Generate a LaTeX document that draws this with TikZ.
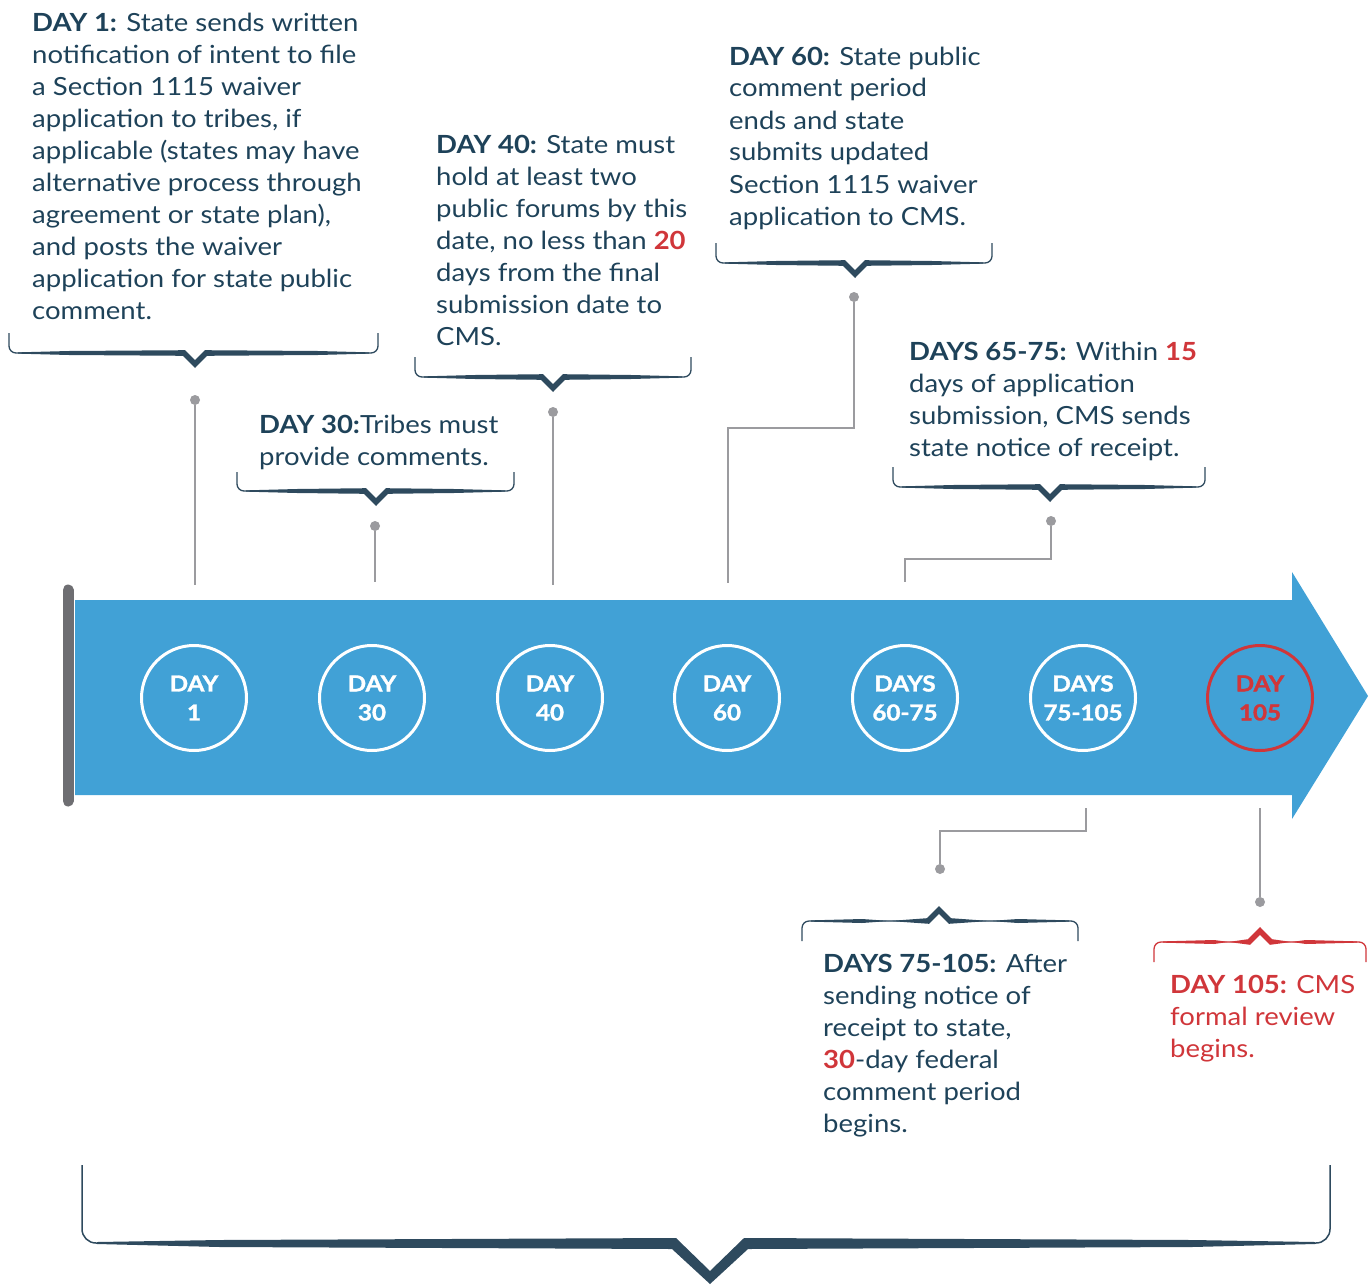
\documentclass[tikz,border=0pt]{standalone}
\usepackage{fontspec}
\setmainfont{Lato}[FakeStretch=1.1]
\definecolor{navy}{HTML}{1E4259}
\definecolor{tred}{HTML}{D0363A}
\definecolor{tblue}{HTML}{41A1D6}
\definecolor{cgray}{HTML}{9B9B9F}
\definecolor{bnavy}{HTML}{2E4A5E}
\definecolor{bargray}{HTML}{6E6E72}
\newcommand\tlbracket[7]{%
 \draw[#7, line width=1.3pt, rounded corners=7pt] (#1,#4) -- (#1,#3) -- (#5-9,#3);
 \draw[#7, line width=1.3pt, rounded corners=7pt] (#5+9,#3) -- (#2,#3) -- (#2,#4);
 \fill[#7] (#1+9,{#3-0.65}) -- (#1+60,{#3-2}) -- (#5-10,{#3-(#6)*2.8}) -- (#5,{#3+(#6)*7.2}) -- (#5+10,{#3-(#6)*2.8}) -- (#2-60,{#3-2}) -- (#2-9,{#3-0.65})
   -- (#2-9,{#3+0.65}) -- (#2-60,{#3+2}) -- (#5+12,{#3+(#6)*2.8}) -- (#5,{#3+(#6)*15}) -- (#5-12,{#3+(#6)*2.8}) -- (#1+60,{#3+2}) -- (#1+9,{#3+0.65}) -- cycle;
}
\tikzset{
 circ/.style={circle, draw=white, line width=3pt, minimum size=105pt, inner sep=0pt, align=center,
   text=white, font=\fontsize{22}{29}\selectfont\bfseries\addfontfeatures{FakeBold=1.5}},
 redcirc/.style={circ, draw=tred, text=tred},
 dot/.style={circle, fill=cgray, inner sep=0pt, minimum size=10pt},
 conn/.style={draw=cgray, line width=2.5pt},
 txt/.style={anchor=base west, inner sep=0pt, align=left, text=navy, font=\fontsize{25}{32}\selectfont},
 redtxt/.style={txt, text=tred},
}
\newcommand\hl[1]{\textcolor{tred}{\textbf{#1}}}
\begin{document}
\begin{tikzpicture}[x=1pt,y=-1pt]
\useasboundingbox (0,0) rectangle (1372,1284);
% timeline arrow
\fill[tblue] (75,600) -- (1292,600) -- (1292,572) -- (1368,696) -- (1292,819) -- (1292,795) -- (75,795) -- cycle;
\draw[bargray, line width=11pt, line cap=round] (68,590) -- (68,801);
% circles
\node[circ] (c1) at (194,698) {DAY\\1};
\node[circ] (c2) at (372,698) {DAY\\30};
\node[circ] (c3) at (550,698) {DAY\\40};
\node[circ] (c4) at (727,698) {DAY\\60};
\node[circ] (c5) at (905,698) {DAYS\\60-75};
\node[circ] (c6) at (1083,698) {DAYS\\75-105};
\node[redcirc] (c7) at (1260,698) {DAY\\105};
% dots and connector ends
\node[dot] (d1) at (195,400) {};
\coordinate (e1) at (195,585);
\node[dot] (d2) at (375,526) {};
\coordinate (e2) at (375,582);
\node[dot] (d3) at (553,412) {};
\coordinate (e3) at (553,585);
\node[dot] (d4) at (854,297) {};
\coordinate (e4) at (728,583);
\node[dot] (d5) at (1051,521) {};
\coordinate (e5) at (905,582);
\node[dot] (d6) at (940,869) {};
\coordinate (e6) at (1086,808);
\node[dot] (d7) at (1260,902) {};
\coordinate (e7) at (1260,808);
\draw[conn] (d1) -- (e1);
\draw[conn] (d2) -- (e2);
\draw[conn] (d3) -- (e3);
\draw[conn] (d4) -- ++(0,131) -| (e4);
\draw[conn] (d5) -- ++(0,38) -| (e5);
\draw[conn] (e6) -- ++(0,23) -| (d6);
\draw[conn] (e7) -- (d7);
% brackets
\tlbracket{9}{378}{353}{333}{195}{1}{bnavy}
\tlbracket{237}{514}{491}{472}{376}{1}{bnavy}
\tlbracket{415}{691}{377}{357}{553}{1}{bnavy}
\tlbracket{716}{992}{263}{243}{855}{1}{bnavy}
\tlbracket{893}{1205}{487}{467}{1050}{1}{bnavy}
\tlbracket{802}{1078}{921}{941}{939}{-1}{bnavy}
\tlbracket{1154}{1366}{942}{962}{1260}{-1}{tred}
% big bracket
\draw[bnavy, line width=1.5pt, rounded corners=14pt] (82,1165) -- (82,1243) -- (676,1243);
\draw[bnavy, line width=1.5pt, rounded corners=14pt] (744,1243) -- (1330,1243) -- (1330,1165);
\fill[bnavy] (97,1242) -- (220,1240) -- (676,1238) -- (710,1271) -- (744,1238) -- (1192,1240) -- (1315,1242) -- (1315,1244) -- (1192,1247) -- (748,1249) -- (710,1284) -- (672,1249) -- (220,1247) -- (97,1244) -- cycle;
% texts (anchored at the baseline of the last line)
\node[txt] (t1) at (32,319) {\textbf{DAY 1:} State sends written\\notification of intent to file\\a Section 1115 waiver\\application to tribes, if\\applicable (states may have\\alternative process through\\agreement or state plan),\\and posts the waiver\\application for state public\\comment.};
\node[txt] (t2) at (259,465) {\textbf{DAY 30:}Tribes must\\provide comments.};
\node[txt] (t3) at (436,345) {\textbf{DAY 40:} State must\\hold at least two\\public forums by this\\date, no less than \hl{20}\\days from the final\\submission date to\\CMS.};
\node[txt] (t4) at (729,225) {\textbf{DAY 60:} State public\\comment period\\ends and state\\submits updated\\Section 1115 waiver\\application to CMS.};
\node[txt] (t5) at (909,456) {\textbf{DAYS 65-75:} Within \hl{15}\\days of application\\submission, CMS sends\\state notice of receipt.};
\node[txt] (t6) at (823,1132) {\textbf{DAYS 75-105:} After\\sending notice of\\receipt to state,\\\hl{30}-day federal\\comment period\\begins.};
\node[redtxt] (t7) at (1170,1057) {\textbf{DAY 105:} CMS\\formal review\\begins.};
\end{tikzpicture}
\end{document}
